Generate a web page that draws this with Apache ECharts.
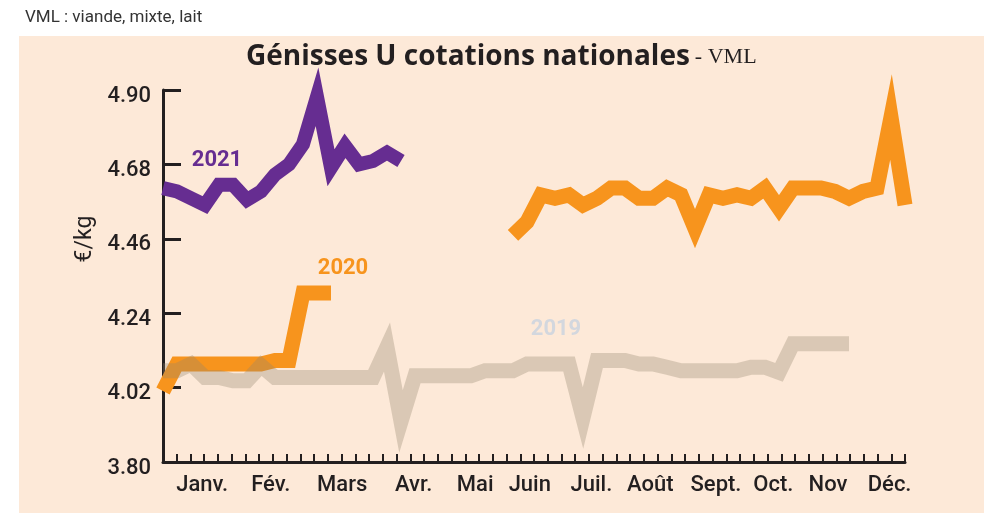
<!DOCTYPE html>
<html>
<head>
<meta charset="utf-8">
<script src="https://cdn.jsdelivr.net/npm/echarts@6/dist/echarts.min.js"></script>
<style>
  html, body { margin: 0; padding: 0; background: #ffffff; }
  #panel { position: absolute; left: 19px; top: 36px; width: 965px; height: 477px; background: #fde9d8; }
  #main { position: absolute; left: 0; top: 0; width: 984px; height: 515px; }
</style>
</head>
<body>
<div id="panel"></div>
<div id="main"></div>
<script>
// semaines 0..53, valeurs en €/kg
var data2021 = [4.61, 4.60, 4.58, 4.56, 4.62, 4.62, 4.575, 4.60, 4.65, 4.68, 4.74, 4.88, 4.67, 4.735, 4.68, 4.69, 4.715, 4.69];

var data2020 = [4.01, 4.09, 4.09, 4.09, 4.09, 4.09, 4.09, 4.09, 4.10, 4.10, 4.30, 4.30, 4.30,
    null, null, null, null, null, null, null, null, null, null, null, null,
    4.47, 4.51, 4.59, 4.58, 4.59, 4.56, 4.58, 4.61, 4.61, 4.58, 4.58, 4.61, 4.59, 4.49,
    4.59, 4.58, 4.59, 4.58, 4.61, 4.55, 4.61, 4.61, 4.61, 4.60, 4.58, 4.60, 4.61, 4.82, 4.56];

var data2019 = [4.07, 4.07, 4.09, 4.05, 4.05, 4.04, 4.04, 4.085,
    4.05, 4.05, 4.05, 4.05, 4.05, 4.05, 4.05, 4.05,
    4.14, 3.92,
    4.055, 4.055, 4.055, 4.055, 4.055,
    4.07, 4.07, 4.07, 4.09, 4.09, 4.09, 4.09,
    3.93,
    4.10, 4.10, 4.10, 4.09, 4.09, 4.08, 4.07, 4.07, 4.07, 4.07, 4.07, 4.08, 4.08, 4.065,
    4.15, 4.15, 4.15, 4.15, 4.15];

var months = ['Janv.', 'Fév.', 'Mars', 'Avr.', 'Mai', 'Juin', 'Juil.', 'Août', 'Sept.', 'Oct.', 'Nov', 'Déc.'];
var monthPos = [2.8, 7.7, 12.8, 17.9, 22.3, 26.2, 30.6, 34.8, 39.5, 43.6, 47.5, 51.9];
var yTicks = [3.80, 4.02, 4.24, 4.46, 4.68, 4.90];

function pairs(arr) {
    return arr.map(function (v, i) { return [i, v == null ? '-' : v]; });
}

var ink = '#231f20';
var font = 'Roboto, "DejaVu Sans", sans-serif';

function yearLabel(txt, color, k, arr, offset) {
    return {
        symbol: 'circle',
        symbolSize: 0,
        silent: true,
        label: {
            show: true,
            position: 'inside',
            formatter: txt,
            color: color,
            fontSize: 22,
            fontWeight: 'bold',
            fontFamily: font,
            offset: offset
        },
        data: [{ coord: [k, arr[k]] }]
    };
}

var lineBase = { join: 'miter', miterLimit: 10, cap: 'butt' };

var myChart = echarts.init(document.getElementById('main'));
var option = {
    animation: false,
    backgroundColor: 'transparent',
    title: [{
        text: 'VML : viande, mixte, lait',
        left: 20,
        top: 4,
        textStyle: { fontSize: 17, fontWeight: 'normal', color: '#333', fontFamily: font }
    }, {
        text: '{a|Génisses U cotations nationales} {b|- VML}',
        left: 241,
        top: 36,
        textStyle: {
            rich: {
                a: { fontSize: 28, fontWeight: 'bold', color: ink, fontFamily: '"Open Sans", Roboto, sans-serif', lineHeight: 32 },
                b: { fontSize: 22, fontWeight: 'normal', color: ink, fontFamily: '"Liberation Serif", serif', lineHeight: 32 }
            }
        }
    }],
    grid: { left: 163, right: 79, top: 90, bottom: 53, containLabel: false },
    xAxis: [{
        type: 'value',
        min: 0,
        max: 53,
        position: 'bottom',
        axisLine: { show: false },
        axisTick: { show: false },
        splitLine: { show: false },
        axisLabel: {
            customValues: monthPos,
            margin: 12,
            color: ink,
            fontSize: 22,
            fontWeight: 500,
            fontFamily: font,
            formatter: function (v) {
                for (var i = 0; i < monthPos.length; i++) {
                    if (Math.abs(monthPos[i] - v) < 1e-6) return months[i];
                }
                return '';
            }
        }
    }, {
        // graduations hebdomadaires
        type: 'value',
        min: 0,
        max: 54,
        interval: 1,
        position: 'bottom',
        axisLine: { show: true, lineStyle: { color: ink, width: 3 } },
        axisTick: { show: true, inside: true, length: 8, lineStyle: { color: ink, width: 2 } },
        axisLabel: { show: false },
        splitLine: { show: false }
    }],
    yAxis: {
        type: 'value',
        min: 3.80,
        max: 4.90,
        name: '€/kg',
        nameLocation: 'middle',
        nameRotate: 90,
        nameGap: 55,
        nameTextStyle: { fontSize: 23, color: ink, fontFamily: font, padding: [0, 0, 0, 74] },
        axisLine: { show: true, lineStyle: { color: ink, width: 3 } },
        axisTick: { show: true, inside: true, length: 18, customValues: yTicks, lineStyle: { color: ink, width: 3 } },
        splitLine: { show: false },
        axisLabel: {
            customValues: yTicks,
            margin: 12,
            formatter: function (v) { return '{v|' + v.toFixed(2) + '}'; },
            rich: {
                v: {
                    color: ink,
                    fontSize: 22,
                    fontWeight: 500,
                    fontFamily: font,
                    padding: [12, 0, 0, 0]
                }
            }
        }
    },
    series: [{
        name: '2020',
        type: 'line',
        xAxisIndex: 0,
        data: pairs(data2020),
        showSymbol: false,
        connectNulls: false,
        clip: false,
        z: 2,
        lineStyle: Object.assign({ color: '#f7941d', width: 15 }, lineBase),
        markPoint: yearLabel('2020', '#f7941d', 12, data2020, [12, -24])
    }, {
        name: '2019',
        type: 'line',
        xAxisIndex: 0,
        data: pairs(data2019),
        showSymbol: false,
        clip: false,
        z: 3,
        lineStyle: Object.assign({ color: 'rgba(150,135,110,0.33)', width: 15 }, lineBase),
        markPoint: yearLabel('2019', '#d3d7de', 28, data2019, [1, -34])
    }, {
        name: '2021',
        type: 'line',
        xAxisIndex: 0,
        data: pairs(data2021),
        showSymbol: false,
        clip: false,
        z: 4,
        lineStyle: Object.assign({ color: '#662d91', width: 14 }, lineBase),
        markPoint: yearLabel('2021', '#662d91', 4, data2021, [-2, -24])
    }]
};
myChart.setOption(option);
</script>
</body>
</html>
